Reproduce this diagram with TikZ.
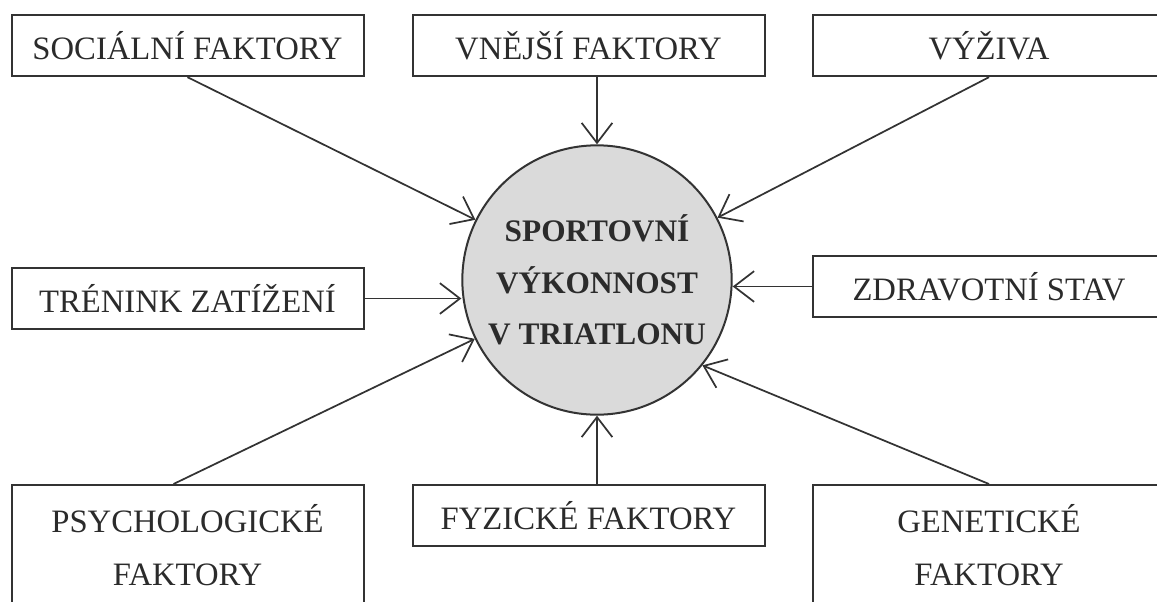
\documentclass[tikz,border=0pt]{standalone}
\usepackage{fontspec}
\setmainfont{Liberation Serif}
\usetikzlibrary{shapes, shapes.geometric, arrows.meta}
\usetikzlibrary{positioning}
\definecolor{linegray}{HTML}{333333}
\definecolor{textgray}{HTML}{2B2B2B}
\definecolor{coregray}{HTML}{DADADA}
\tikzset{every picture/.style={line width=1.5pt}}

\begin{document}
\begin{tikzpicture}[x=0.75pt,y=0.75pt,yscale=-1,xscale=1]

     \tikzstyle{box} = [draw = linegray,
						fill = white,
						line width = 1.5pt,
						minimum width = 264pt,
						minimum height = 46pt,
						inner sep = 0pt,
						align = center,
						text = textgray,
						font = \fontsize{24.5}{40}\selectfont
						]
     \tikzstyle{core} = [circle,
						draw = linegray,
						fill = coregray,
						line width = 1.5pt,
						minimum size = 202pt,
						inner sep = 0pt,
						align = center,
						text = textgray,
						font = \fontsize{23.5}{38.5}\selectfont\bfseries
						]
     \tikzstyle{arrow} = [draw = linegray, line width = 1.3pt, -{Straight Barb[length=15pt,width=23pt]}]

\clip (0,0) rectangle (1157,601);

\node [core] (vykon) at (597,280) {SPORTOVNÍ\\VÝKONNOST\\V TRIATLONU};

\node [box] (social) at (187.5,45.5) {SOCIÁLNÍ FAKTORY};
\node [box] (vnejsi) at (588.5,45.5) {VNĚJŠÍ FAKTORY};
\node [box] (vyziva) at (989,45.5) {VÝŽIVA};
\node [box] (trenink) at (187.5,298.5) {TRÉNINK ZATÍŽENÍ};
\node [box] (zdravi) at (989,286.5) {ZDRAVOTNÍ STAV};
\node [box, minimum height = 90pt] (psycho) at (187.5,545) {PSYCHOLOGICKÉ\\FAKTORY};
\node [box] (fyzicke) at (588.5,515.5) {FYZICKÉ FAKTORY};
\node [box, minimum height = 90pt] (genetika) at (989,545) {GENETICKÉ\\FAKTORY};

\draw[arrow] (social.south) -- (vykon);
\draw[arrow] (vnejsi.south -| vykon.north) -- (vykon.north);
\draw[arrow] (vyziva.south) -- (vykon);
\draw[arrow] (trenink.east) -- (trenink.east -| vykon.west);
\draw[arrow] (zdravi.west) -- (zdravi.west -| vykon.east);
\draw[arrow] ([xshift=-10.5pt]psycho.north) -- (vykon);
\draw[arrow] (fyzicke.north -| vykon.south) -- (vykon.south);
\draw[arrow] (genetika.north) -- (vykon.-39);

\end{tikzpicture}
\end{document}
